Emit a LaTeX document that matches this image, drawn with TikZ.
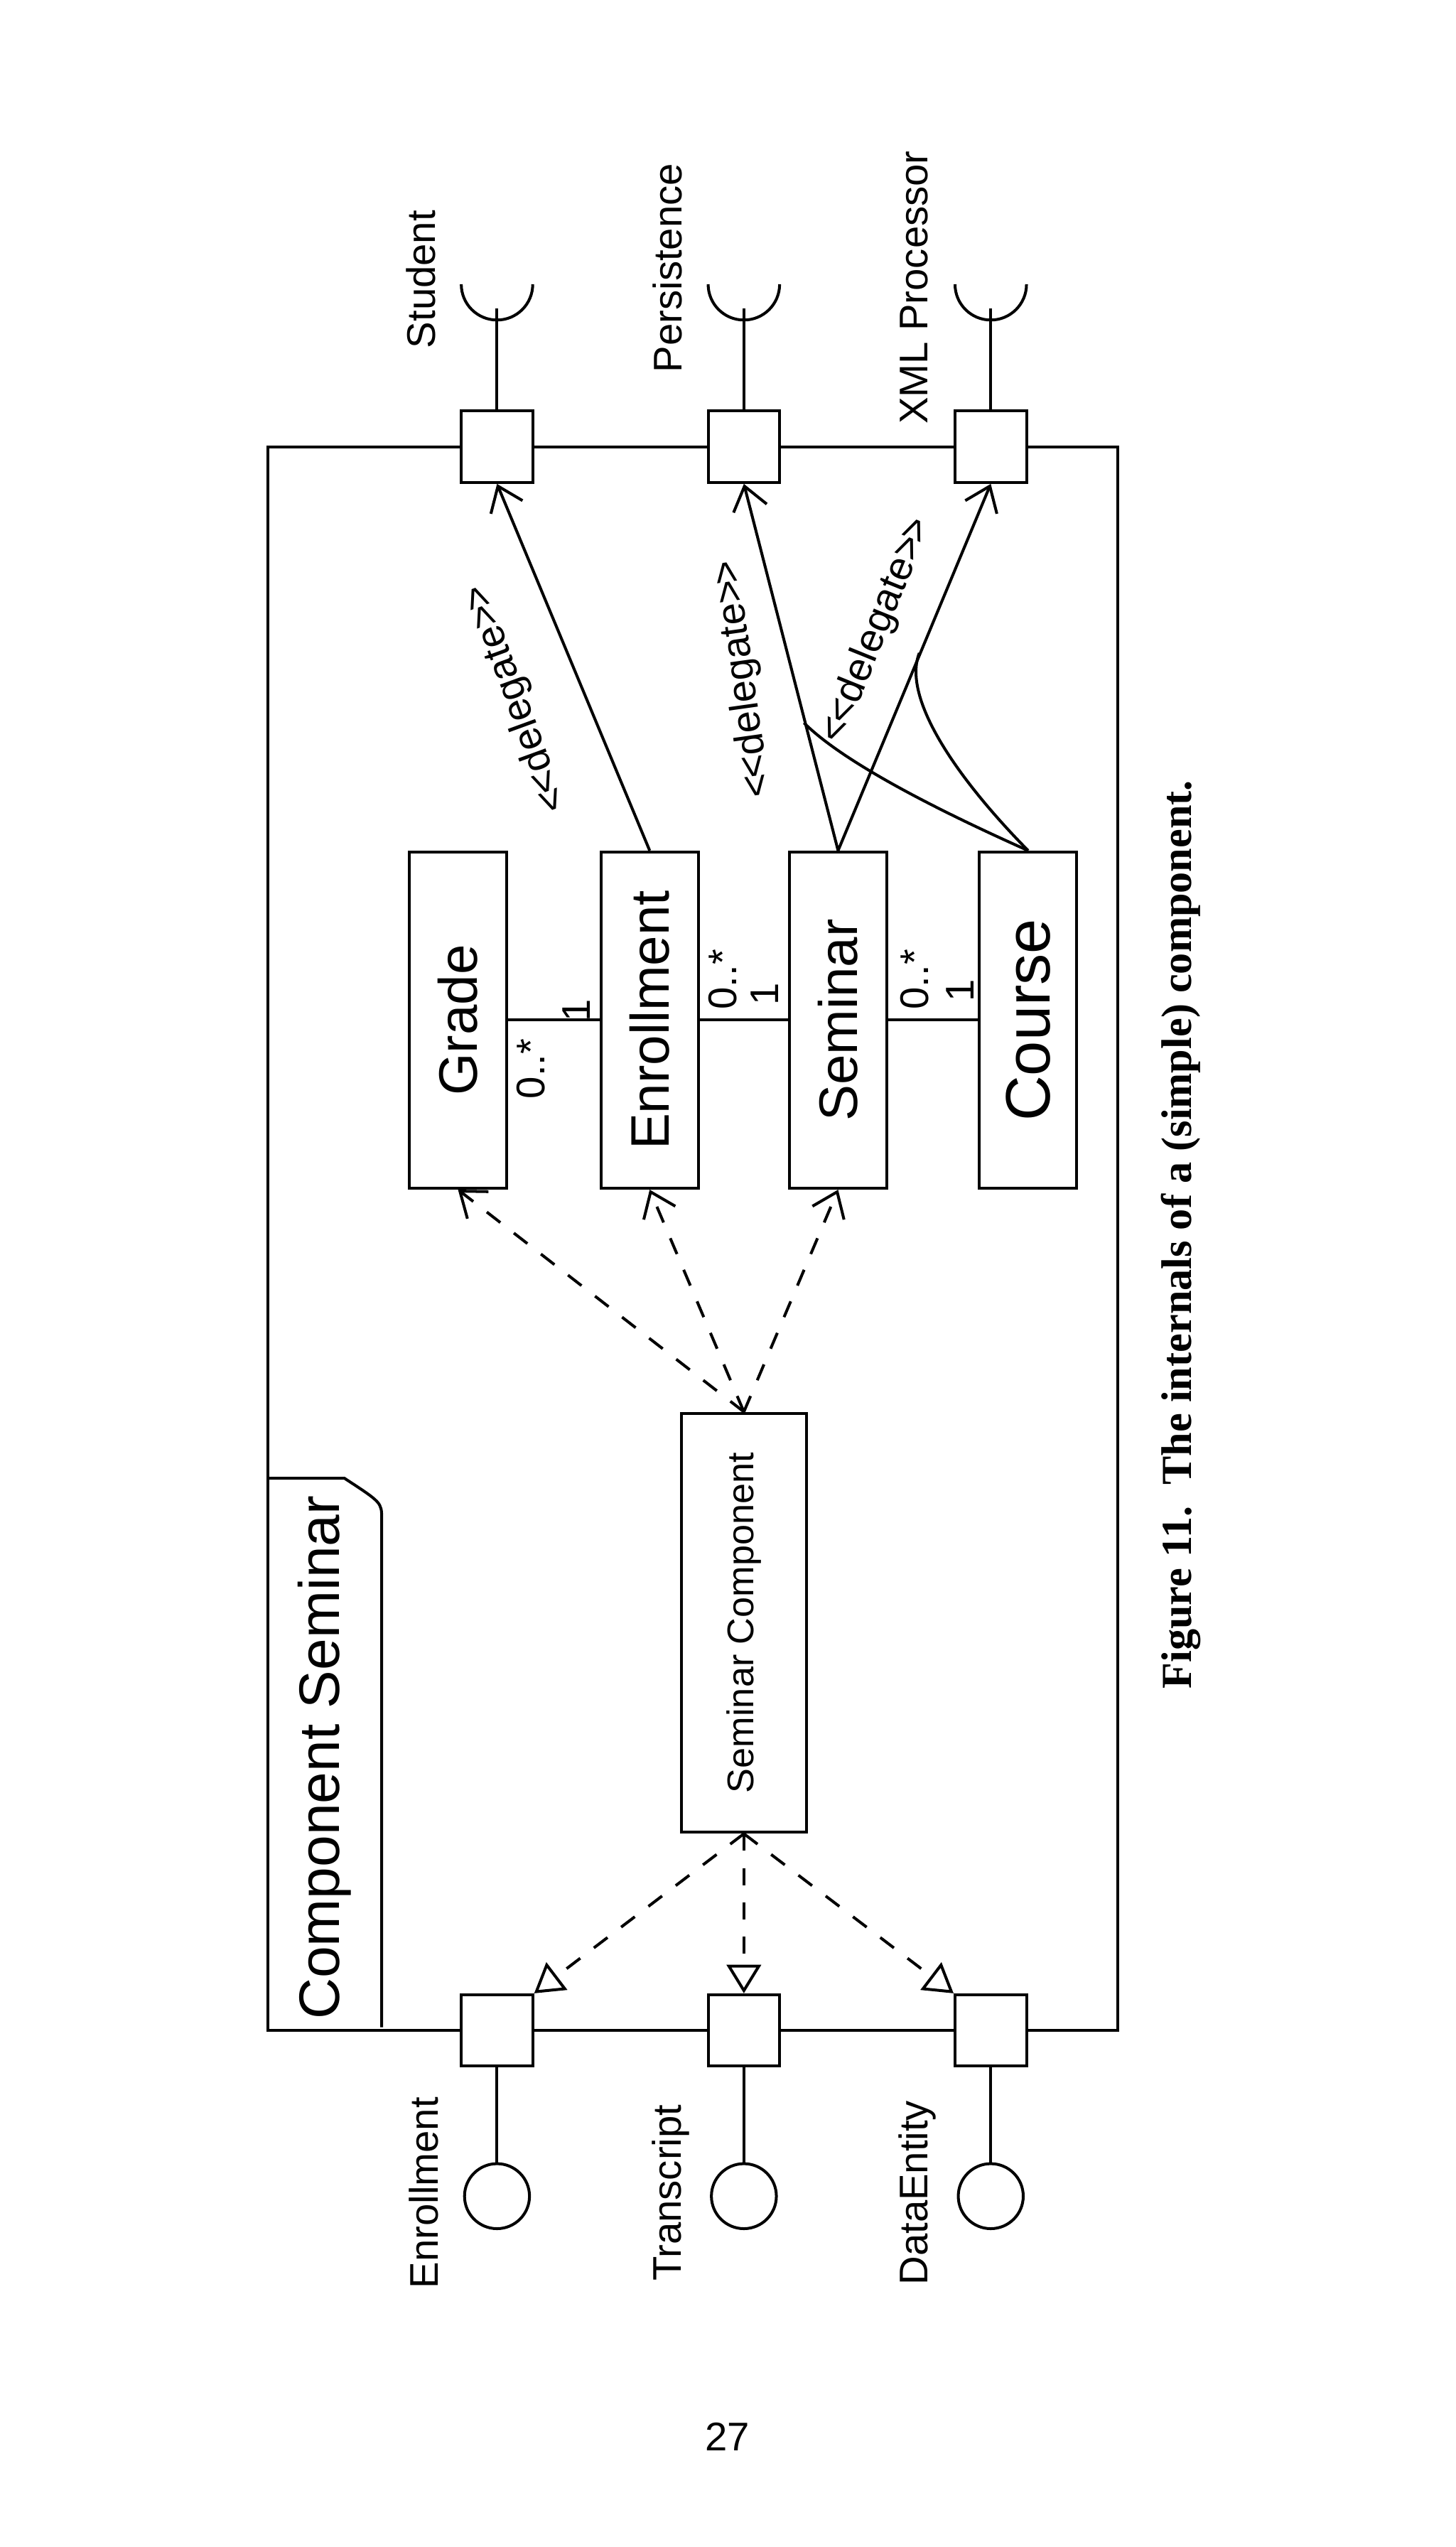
\documentclass[tikz,border=0pt]{standalone}
\usepackage{fontspec}
\setmainfont{Liberation Sans}
\newfontfamily\capfont{Liberation Serif}
\usetikzlibrary{arrows.meta}
\newcommand{\dlgtext}{\textless\kern-.1em\textless delegate\textgreater\kern-.1em\textgreater}
\begin{document}
\begin{tikzpicture}[x=0.01cm,y=-0.01cm,line width=0.5pt,
  cls/.style={draw,minimum width=60*0.01cm,minimum height=207*0.01cm,inner sep=0pt},
  port/.style={draw,fill=white,minimum size=44*0.01cm,inner sep=0pt},
  lbl/.style={rotate=90,font=\fontsize{7}{8}\selectfont},
  dep/.style={dashed,-{Straight Barb[length=4pt,width=6pt]}},
  real/.style={dashed,-{Triangle[open,length=5pt,width=6pt]}},
  dlg/.style={-{Straight Barb[length=4pt,width=6pt]}}]
\useasboundingbox (0,0) rectangle (896,1568);
% frame
\draw (165,275) -- (688,275) -- (688,1250) -- (165,1250) -- cycle;
\draw (165,910) -- (212,910) .. controls (235,925) .. (235,935) -- (235,1248);
\node[rotate=90,font=\fontsize{10}{11}\selectfont] (cs) at (200,1082) {Component Seminar};
% ports top
\foreach \n/\x/\t/\ly in {ps/306/Student/172,pp/458/Persistence/165,px/610/XML Processor/177}{
  \node[port] (\n) at (\x,275) {};
  \coordinate (\n s) at (\x,190);
  \draw (\n.north) -- (\n s);
  \draw (\x-22,175) arc[start angle=180,end angle=360,radius=22*0.01cm];
  \node[lbl] (\n l) at (\x-47,\ly) {\t};
}
% ports bottom
\foreach \n/\x/\t in {qe/306/Enrollment,qt/458/Transcript,qd/610/DataEntity}{
  \node[port] (\n) at (\x,1250) {};
  \node[draw,circle,minimum size=40*0.01cm,inner sep=0pt] (\n c) at (\x,1352) {};
  \draw (\n.south) -- (\n c.north);
  \node[lbl] (\n l) at (\x-45,1350) {\t};
}
% classes
\node[cls] (grade) at (282,628) {};
\node[lbl,font=\fontsize{9.5}{10}\selectfont] at (grade) {Grade};
\node[cls] (enr) at (400,628) {};
\node[lbl,font=\fontsize{9.5}{10}\selectfont] at (enr) {Enrollment};
\node[cls] (sem) at (516,628) {};
\node[lbl,font=\fontsize{9.5}{10}\selectfont] at (sem) {Seminar};
\node[cls] (course) at (633,628) {};
\node[lbl,font=\fontsize{11}{12}\selectfont] at (course) {Course};
\draw (grade.east) -- (enr.west);
\draw (enr.east) -- (sem.west);
\draw (sem.east) -- (course.west);
\node[lbl] at (327,658) {0..*};
\node[lbl] at (355,622) {1};
\node[lbl] at (445,603) {0..*};
\node[lbl] at (471,612) {1};
\node[lbl] at (563,603) {0..*};
\node[lbl] at (591,610) {1};
% seminar component
\node[draw,minimum width=77*0.01cm,minimum height=258*0.01cm] (sc) at (458,999) {};
\node[lbl,font=\fontsize{6.5}{7}\selectfont] at (sc) {Seminar Component};
\draw[dep] (sc.north) -- (grade.south);
\draw[dep] (sc.north) -- (enr.south);
\draw[dep] (sc.north) -- (sem.south);
\draw[real] (sc.south) -- (qe.north east);
\draw[real] (sc.south) -- (qt.north);
\draw[real] (sc.south) -- (qd.north west);
% delegates
\draw[dlg] (enr.north) -- (ps.south);
\draw[dlg] (sem.north) -- (pp.south);
\draw[dlg] (sem.north) -- (px.south);
\node[lbl,rotate=20] at (318,430) {\dlgtext};
\node[lbl,rotate=8] at (458,418) {\dlgtext};
\node[lbl,rotate=-22] at (540,388) {\dlgtext};
\draw (course.north) .. controls (580,500) and (520,470) .. (495,445);
\draw (course.north) .. controls (590,480) and (555,430) .. (566,402);
% caption
\node[rotate=90,font=\capfont\bfseries\fontsize{7.5}{8}\selectfont] at (727,760) {Figure 11.\ \ The internals of a (simple) component.};
\node[font=\fontsize{7}{8}\selectfont] at (448,1500) {27};
\end{tikzpicture}
\end{document}
